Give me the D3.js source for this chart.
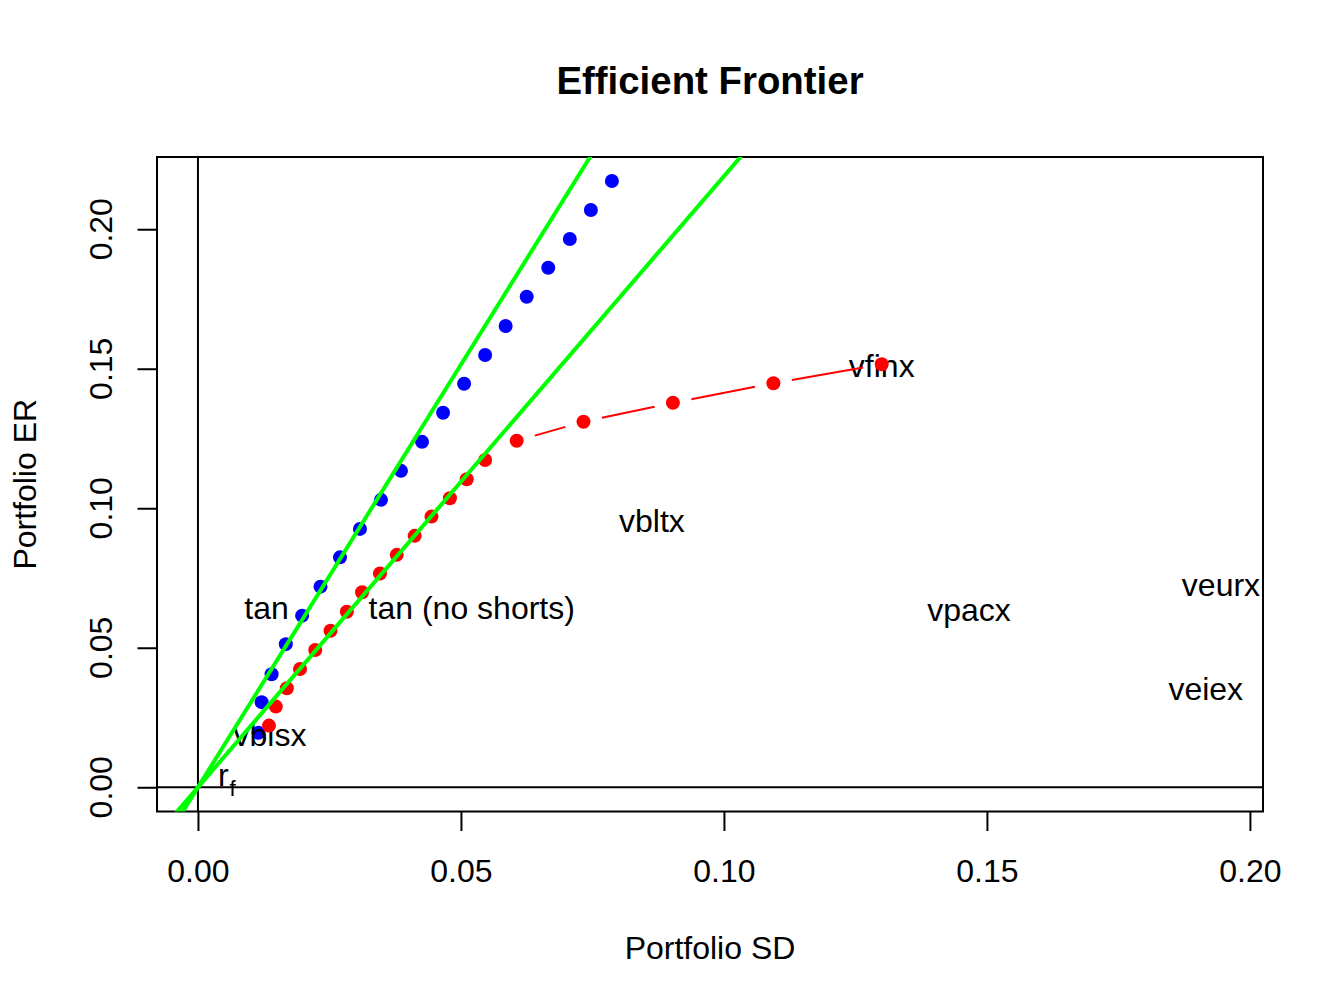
<!DOCTYPE html>
<html>
<head>
<meta charset="utf-8">
<script src="https://cdn.jsdelivr.net/npm/d3@7"></script>
<style>
  body { margin: 0; background: #fff; }
  text { font-family: "Liberation Sans", Arial, sans-serif; }
</style>
</head>
<body>
<div id="chart"></div>
<script>
// frontier with short sales (blue)
const blueSd = [0.0115, 0.0121, 0.0140, 0.0167, 0.0198, 0.0233, 0.0270, 0.0308, 0.0348, 0.0386,
                0.0426, 0.0466, 0.0506, 0.0546, 0.0585, 0.0625, 0.0666, 0.0707, 0.0747, 0.0787];
const blueEr = [0.0195, 0.0305, 0.0405, 0.0513, 0.0615, 0.0719, 0.0824, 0.0926, 0.1030, 0.1134,
                0.1238, 0.1342, 0.1446, 0.1549, 0.1653, 0.1758, 0.1862, 0.1965, 0.2069, 0.2173];
// frontier with no short sales (red)
const redSd = [0.0135, 0.0148, 0.0169, 0.0194, 0.0223, 0.0252, 0.0283, 0.0312, 0.0346, 0.0378,
               0.0412, 0.0444, 0.0479, 0.0511, 0.0546, 0.0606, 0.0733, 0.0903, 0.1094, 0.1300];
const redEr = [0.0221, 0.0289, 0.0355, 0.0424, 0.0492, 0.0561, 0.0629, 0.0699, 0.0766, 0.0833,
               0.0901, 0.0970, 0.1036, 0.1104, 0.1173, 0.1242, 0.1310, 0.1378, 0.1448, 0.1516];
// individual assets
const assetNames = ["vbisx", "vbltx", "vfinx", "veurx", "veiex", "vpacx"];
const assetSd = [0.0137, 0.0863, 0.1300, 0.1945, 0.1916, 0.1466];
const assetEr = [0.0192, 0.0960, 0.1516, 0.0730, 0.0356, 0.0639];
// tangency portfolios and risk free rate
const tanNames = ["tan", "tan (no shorts)"];
const tanSd = [0.0200, 0.0297];
const tanEr = [0.0646, 0.0646];
const tanPos = [2, 4];
const rf = 0;
const sharpe = [3.03, 2.19];
const xTicks = [0, 0.05, 0.10, 0.15, 0.20];
const yTicks = [0, 0.05, 0.10, 0.15, 0.20];
const xlim = [0, 0.1947];
const ylim = [0, 0.2172];

const width = 1344;
const height = 1008;
const plotL = 157, plotR = 1263, plotT = 157, plotB = 811.5;
const fs = 32;

function ext(lim) {
  const d = (lim[1] - lim[0]) * 0.04;
  return [lim[0] - d, lim[1] + d];
}

const x = d3.scaleLinear().domain(ext(xlim)).range([plotL, plotR]);
const y = d3.scaleLinear().domain(ext(ylim)).range([plotB, plotT]);

const svg = d3.select("#chart").append("svg")
  .attr("width", width)
  .attr("height", height)
  .attr("viewBox", `0 0 ${width} ${height}`);

svg.append("defs").append("clipPath").attr("id", "plotclip")
  .append("rect")
  .attr("x", plotL).attr("y", plotT)
  .attr("width", plotR - plotL).attr("height", plotB - plotT);

// title and axis labels
svg.append("text")
  .attr("x", (plotL + plotR) / 2).attr("y", 93.5)
  .attr("text-anchor", "middle")
  .attr("font-weight", "bold")
  .attr("font-size", fs * 1.2)
  .text("Efficient Frontier");

svg.append("text")
  .attr("x", (plotL + plotR) / 2).attr("y", 958.5)
  .attr("text-anchor", "middle")
  .attr("font-size", fs)
  .text("Portfolio SD");

svg.append("text")
  .attr("transform", `translate(36,${(plotT + plotB) / 2}) rotate(-90)`)
  .attr("text-anchor", "middle")
  .attr("font-size", fs)
  .text("Portfolio ER");

// axes
const xAxis = svg.append("g")
  .attr("transform", `translate(0,${plotB})`)
  .call(d3.axisBottom(x).tickValues(xTicks).tickSize(19.5).tickPadding(27.8)
    .tickFormat(d3.format(".2f")));
xAxis.select(".domain").remove();
xAxis.selectAll("line").attr("stroke", "#000").attr("stroke-width", 2);
xAxis.selectAll("text").attr("font-size", fs).attr("fill", "#000")
  .attr("font-family", "Liberation Sans, Arial, sans-serif");

const yAxis = svg.append("g")
  .attr("transform", `translate(${plotL},0)`)
  .call(d3.axisLeft(y).tickValues(yTicks).tickSize(19.5).tickFormat(""));
yAxis.select(".domain").remove();
yAxis.selectAll("line").attr("stroke", "#000").attr("stroke-width", 2);

svg.selectAll(".ylab")
  .data(yTicks)
  .enter()
  .append("text")
  .attr("class", "ylab")
  .attr("transform", d => `translate(112,${y(d)}) rotate(-90)`)
  .attr("text-anchor", "middle")
  .attr("font-size", fs)
  .text(d => d3.format(".2f")(d));

// box
svg.append("rect")
  .attr("x", plotL).attr("y", plotT)
  .attr("width", plotR - plotL).attr("height", plotB - plotT)
  .attr("fill", "none").attr("stroke", "#000").attr("stroke-width", 2);

const plot = svg.append("g").attr("clip-path", "url(#plotclip)");

// zero lines
plot.append("line")
  .attr("x1", plotL).attr("x2", plotR)
  .attr("y1", y(0)).attr("y2", y(0))
  .attr("stroke", "#000").attr("stroke-width", 2);
plot.append("line")
  .attr("x1", x(0)).attr("x2", x(0))
  .attr("y1", plotT).attr("y2", plotB)
  .attr("stroke", "#000").attr("stroke-width", 2);

// frontier with shorts
plot.selectAll(".blue")
  .data(blueSd)
  .enter()
  .append("circle")
  .attr("class", "blue")
  .attr("cx", d => x(d))
  .attr("cy", (d, i) => y(blueEr[i]))
  .attr("r", 7)
  .attr("fill", "#0000ff");

// asset labels
plot.selectAll(".asset")
  .data(assetNames)
  .enter()
  .append("text")
  .attr("class", "asset")
  .attr("x", (d, i) => x(assetSd[i]))
  .attr("y", (d, i) => y(assetEr[i]))
  .attr("dy", "0.385em")
  .attr("text-anchor", "middle")
  .attr("font-size", fs)
  .text(d => d);

// frontier without shorts: points joined with gapped segments
const gap = 18.8;
const segs = [];
for (let i = 0; i < redSd.length - 1; i += 1) {
  const x0 = x(redSd[i]), y0 = y(redEr[i]);
  const x1 = x(redSd[i + 1]), y1 = y(redEr[i + 1]);
  const len = Math.hypot(x1 - x0, y1 - y0);
  if (len > 2 * gap) {
    const ux = (x1 - x0) / len, uy = (y1 - y0) / len;
    segs.push([x0 + ux * gap, y0 + uy * gap, x1 - ux * gap, y1 - uy * gap]);
  }
}
plot.selectAll(".redseg")
  .data(segs)
  .enter()
  .append("line")
  .attr("class", "redseg")
  .attr("x1", d => d[0]).attr("y1", d => d[1])
  .attr("x2", d => d[2]).attr("y2", d => d[3])
  .attr("stroke", "#ff0000")
  .attr("stroke-width", 2);

plot.selectAll(".red")
  .data(redSd)
  .enter()
  .append("circle")
  .attr("class", "red")
  .attr("cx", d => x(d))
  .attr("cy", (d, i) => y(redEr[i]))
  .attr("r", 7)
  .attr("fill", "#ff0000");

// capital allocation lines
const xd = x.domain();
plot.selectAll(".cal")
  .data(sharpe)
  .enter()
  .append("line")
  .attr("class", "cal")
  .attr("x1", x(xd[0])).attr("y1", d => y(rf + d * xd[0]))
  .attr("x2", x(xd[1])).attr("y2", d => y(rf + d * xd[1]))
  .attr("stroke", "#00ff00")
  .attr("stroke-width", 4);

// tangency labels (pos 2 = left, pos 4 = right)
const offset = 14.4;
plot.selectAll(".tan")
  .data(tanNames)
  .enter()
  .append("text")
  .attr("class", "tan")
  .attr("x", (d, i) => x(tanSd[i]) + (tanPos[i] === 2 ? -offset : offset))
  .attr("y", (d, i) => y(tanEr[i]))
  .attr("dy", "0.385em")
  .attr("text-anchor", (d, i) => (tanPos[i] === 2 ? "end" : "start"))
  .attr("font-size", fs)
  .text(d => d);

// risk free label
const rfText = plot.append("text")
  .attr("x", x(0) + 20)
  .attr("y", y(rf) - 1.5)
  .attr("font-size", fs);
rfText.append("tspan").text("r");
rfText.append("tspan").attr("dy", 10).attr("dx", 1).attr("font-size", fs * 0.7).text("f");
</script>
</body>
</html>
